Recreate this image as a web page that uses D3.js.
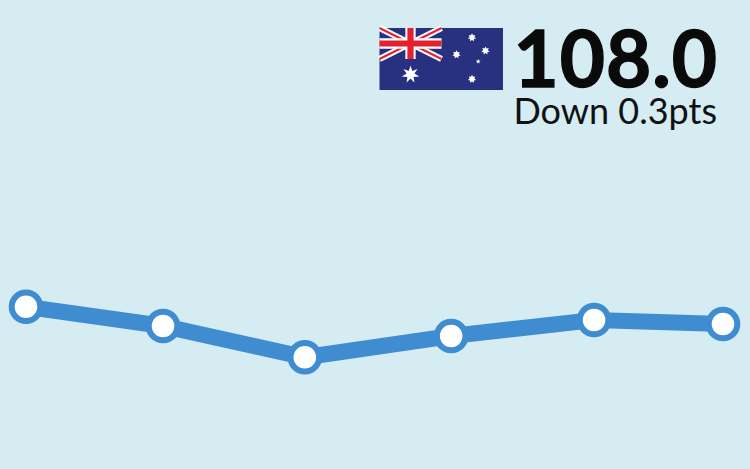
<!DOCTYPE html>
<html>
<head>
<meta charset="utf-8">
<script src="https://cdnjs.cloudflare.com/ajax/libs/d3/7.8.5/d3.min.js"></script>
<style>
html, body { margin: 0; padding: 0; background: #d4ecf2; }
svg { display: block; }
</style>
</head>
<body>
<div id="chart"></div>
<script>
var periods = [0, 0.983, 2.0, 3.05, 4.075, 5];
var values = [109.3, 107.85, 105.5, 107.1, 108.3, 108.0];
var headline = "108.0";
var subline = "Down 0.3pts";

var width = 750, height = 469;

var svg = d3.select("#chart").append("svg")
	.attr("width", width)
	.attr("height", height)
	.attr("viewBox", [0, 0, width, height]);

svg.append("rect")
	.attr("width", width)
	.attr("height", height)
	.attr("fill", "#d4ecf2");

var x = d3.scaleLinear().domain([0, 5]).range([26, 723]);
var y = d3.scaleLinear().domain([100, 110]).range([430.4, 297.4]);

var line = d3.line()
	.x(function(d, i) {return x(periods[i]);})
	.y(function(d) {return y(d);});

svg.append("path")
	.datum(values)
	.attr("d", line)
	.attr("fill", "none")
	.attr("stroke", "#3f8dd0")
	.attr("stroke-width", 16);

svg.selectAll(".data_point")
	.data(values)
	.enter()
	.append("circle")
		.attr("class", "data_point")
		.attr("cx", function(d, i) {return x(periods[i]);})
		.attr("cy", function(d) {return y(d);})
		.attr("r", 14.3)
		.attr("fill", "#fff")
		.attr("stroke", "#3f8dd0")
		.attr("stroke-width", 6);

//flag
var flag = svg.append("g").attr("transform", "translate(379.5,28)");
var fw = 123.5, fh = 62, cw = 62, ch = 31;
var blue = "#27317f", red = "#e4202e";

flag.append("rect").attr("width", fw).attr("height", fh).attr("fill", blue);

var canton = flag.append("g");
canton.append("path")
	.attr("d", "M0,0L" + cw + "," + ch + "M" + cw + ",0L0," + ch)
	.attr("stroke", "#fff").attr("stroke-width", 6.2);
canton.append("path")
	.attr("d", "M0,0L" + cw + "," + ch + "M" + cw + ",0L0," + ch)
	.attr("stroke", red).attr("stroke-width", 2);
canton.append("path")
	.attr("d", "M" + cw / 2 + ",0V" + ch + "M0," + ch / 2 + "H" + cw)
	.attr("stroke", "#fff").attr("stroke-width", 10.3);
canton.append("path")
	.attr("d", "M" + cw / 2 + ",0V" + ch + "M0," + ch / 2 + "H" + cw)
	.attr("stroke", red).attr("stroke-width", 6.2);

function starPath(cx, cy, points, outer, inner){
	var p = [];
	for(var i = 0; i < points * 2; i++){
		var r = i % 2 ? inner : outer,
			a = Math.PI * i / points - Math.PI / 2;
		p.push([cx + r * Math.cos(a), cy + r * Math.sin(a)]);
	}
	return "M" + p.join("L") + "Z";
}

var stars = [
	[31, 46.5, 7, 9, 4],
	[92.5, 9.5, 7, 4.2, 2.4],
	[77, 26.5, 7, 4.2, 2.4],
	[106, 22.7, 7, 4.2, 2.4],
	[92.5, 51, 7, 4.2, 2.4],
	[98.7, 33.5, 5, 2.5, 1.1]
];
flag.selectAll(".star")
	.data(stars)
	.enter()
	.append("path")
		.attr("class", "star")
		.attr("fill", "#fff")
		.attr("d", function(d) {return starPath(d[0], d[1], d[2], d[3], d[4]);});

//headline text
svg.append("text")
	.attr("x", 718)
	.attr("y", 86.5)
	.attr("text-anchor", "end")
	.attr("font-family", "Lato, sans-serif")
	.attr("font-weight", 700)
	.attr("font-size", 78)
	.attr("letter-spacing", 1)
	.attr("stroke", "#0a0a0a")
	.attr("stroke-width", 1.4)
	.attr("fill", "#0a0a0a")
	.text(headline);

svg.append("text")
	.attr("x", 717)
	.attr("y", 123.5)
	.attr("text-anchor", "end")
	.attr("font-family", "Lato, sans-serif")
	.attr("font-size", 36)
	.attr("fill", "#111")
	.text(subline);
</script>
</body>
</html>
